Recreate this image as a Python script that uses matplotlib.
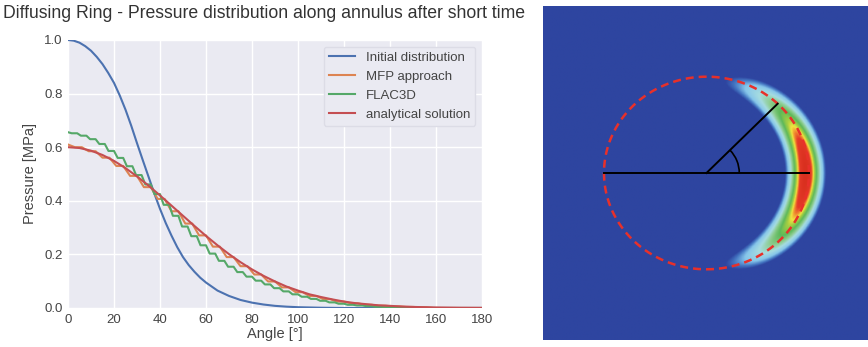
import matplotlib
matplotlib.use("Agg")
import matplotlib.pyplot as plt
import numpy as np
from matplotlib.colors import LinearSegmentedColormap
from matplotlib.patches import Arc

# Data
initial_angle = [0, 2.5, 5, 7.5, 10, 12.5, 15, 17.5, 20, 22.5, 25, 27.5, 30, 32.5, 35,
                 37.5, 40, 42.5, 45, 47.5, 50, 52.5, 55, 57.5, 60, 65, 70, 75, 80, 85,
                 90, 95, 100, 110, 120, 180]
initial = [1.0, 0.9975, 0.99, 0.977, 0.96, 0.937, 0.91, 0.877, 0.84, 0.793, 0.74, 0.68,
           0.615, 0.552, 0.49, 0.428, 0.37, 0.317, 0.27, 0.227, 0.19, 0.16, 0.135, 0.113,
           0.095, 0.065, 0.045, 0.03, 0.02, 0.013, 0.008, 0.005, 0.003, 0.001, 0, 0]

mfp_angle = list(range(0, 157, 6)) + [180]
mfp = [0.610, 0.600, 0.585, 0.561, 0.530, 0.493, 0.451, 0.407, 0.361, 0.315, 0.271,
       0.229, 0.190, 0.156, 0.125, 0.099, 0.077, 0.059, 0.045, 0.033, 0.024, 0.0175,
       0.012, 0.0086, 0.006, 0.004, 0.0025, 0]

flac_angle = list(range(0, 141, 4)) + [150, 180]
flac3d = [0.656, 0.652, 0.643, 0.630, 0.612, 0.586, 0.560, 0.529, 0.496, 0.461, 0.425,
          0.385, 0.344, 0.304, 0.268, 0.234, 0.203, 0.176, 0.154, 0.134, 0.117, 0.102,
          0.088, 0.074, 0.062, 0.051, 0.042, 0.034, 0.027, 0.021, 0.016, 0.012, 0.0095,
          0.007, 0.0045, 0.003, 0.001, 0]

analytic_angle = np.arange(0, 185, 5)
analytical = [0.600, 0.597, 0.587, 0.571, 0.549, 0.522, 0.491, 0.457, 0.420, 0.382,
              0.344, 0.306, 0.269, 0.234, 0.201, 0.171, 0.144, 0.120, 0.099, 0.080,
              0.065, 0.051, 0.041, 0.032, 0.024, 0.018, 0.014, 0.010, 0.008, 0.0055,
              0.004, 0.003, 0.002, 0.0015, 0.001, 0.0008, 0.0006]

labels = ["Initial distribution", "MFP approach", "FLAC3D", "analytical solution"]
colors = ["#4c72b0", "#dd8452", "#55a868", "#c44e52"]


def stairs(x, v, drop):
    # zone values drawn as a staircase (steep drop, then flat)
    xs, ys = [], []
    for i in range(len(x) - 1):
        xs += [x[i], x[i] + drop]
        ys += [v[i], v[i + 1]]
    xs.append(x[-1])
    ys.append(v[-1])
    return xs, ys


plt.rcParams["font.family"] = ["Liberation Sans", "DejaVu Sans"]
plt.rcParams["text.color"] = "#333333"

fig = plt.figure(figsize=(8.68, 3.47), dpi=100)

# Left: pressure curves
ax = fig.add_axes([68 / 868, 1 - 308 / 347, 414 / 868, 268 / 347])
ax.set_facecolor("#eaeaf2")
ax.grid(True, color="white", lw=1.0)
ax.set_axisbelow(True)
for s in ax.spines.values():
    s.set_visible(False)

ax.plot(initial_angle, initial, color=colors[0], lw=1.5, label=labels[0])
xs, ys = stairs(mfp_angle, mfp, 3.0)
ax.plot(xs, ys, color=colors[1], lw=1.5, label=labels[1])
xs, ys = stairs(flac_angle, flac3d, 1.6)
ax.plot(xs, ys, color=colors[2], lw=1.5, label=labels[2])
ax.plot(analytic_angle, analytical, color=colors[3], lw=1.5, label=labels[3])

ax.set_xlim(0, 180)
ax.set_ylim(0, 1.0)
ax.set_xticks(np.arange(0, 181, 20))
ax.set_yticks(np.arange(0, 1.01, 0.2))
ax.tick_params(length=0, labelsize=9.5, labelcolor="#444444", pad=4)
ax.set_xlabel("Angle [°]", fontsize=10.5, color="#444444", labelpad=1)
ax.set_ylabel("Pressure [MPa]", fontsize=10.5, color="#444444", labelpad=5)
leg = ax.legend(loc="upper right", fontsize=9.5, frameon=True, facecolor="#eaeaf2",
                edgecolor="#dcdce6", framealpha=1.0)
for t in leg.get_texts():
    t.set_color("#444444")

fig.text(0.003, 0.962, "Diffusing Ring - Pressure distribution along annulus after short time",
         fontsize=12.7, color="#333333", ha="left", va="center")

# Right: pressure field in the ring
ax2 = fig.add_axes([543 / 868, 7 / 347, 325 / 868, 334 / 347])
ax2.set_axis_off()
xlim = (-1.595, 1.576)
ylim = (-1.734, 1.734)
gx = np.linspace(xlim[0], xlim[1], 420)
gy = np.linspace(ylim[0], ylim[1], 440)
X, Y = np.meshgrid(gx, gy)
R = np.hypot(X, Y)
T = np.degrees(np.arctan2(np.abs(Y), X))
amp = np.interp(T, analytic_angle, analytical) / analytical[0]
field = amp * np.exp(-((R - 0.97) / 0.17) ** 2)

cmap = LinearSegmentedColormap.from_list("ring", [
    (0.0, "#2e45a0"), (0.25, "#2e45a0"), (0.30, "#4476c2"), (0.37, "#86c6ea"),
    (0.48, "#a6dce0"), (0.58, "#8ccc8c"), (0.68, "#5cb85a"), (0.77, "#a4ce42"),
    (0.82, "#f2e440"), (0.86, "#f08a30"), (0.90, "#e53a28"), (1.0, "#d9301f")])
ax2.imshow(field, extent=[xlim[0], xlim[1], ylim[0], ylim[1]], origin="lower",
           cmap=cmap, vmin=0, vmax=1, aspect="auto", interpolation="bilinear")

th = np.linspace(0, 2 * np.pi, 400)
ax2.plot(np.cos(th), np.sin(th), color="#e8302a", lw=1.8, dashes=(3.2, 2.0))
ax2.plot([-1, 1], [0, 0], color="black", lw=1.4)
ax2.plot([0, np.cos(np.radians(46))], [0, np.sin(np.radians(46))], color="black", lw=1.4)
ax2.add_patch(Arc((0, 0), 0.64, 0.68, theta1=0, theta2=46, color="black", lw=1.2))
ax2.set_xlim(*xlim)
ax2.set_ylim(*ylim)

fig.savefig("out.png", dpi=100)
